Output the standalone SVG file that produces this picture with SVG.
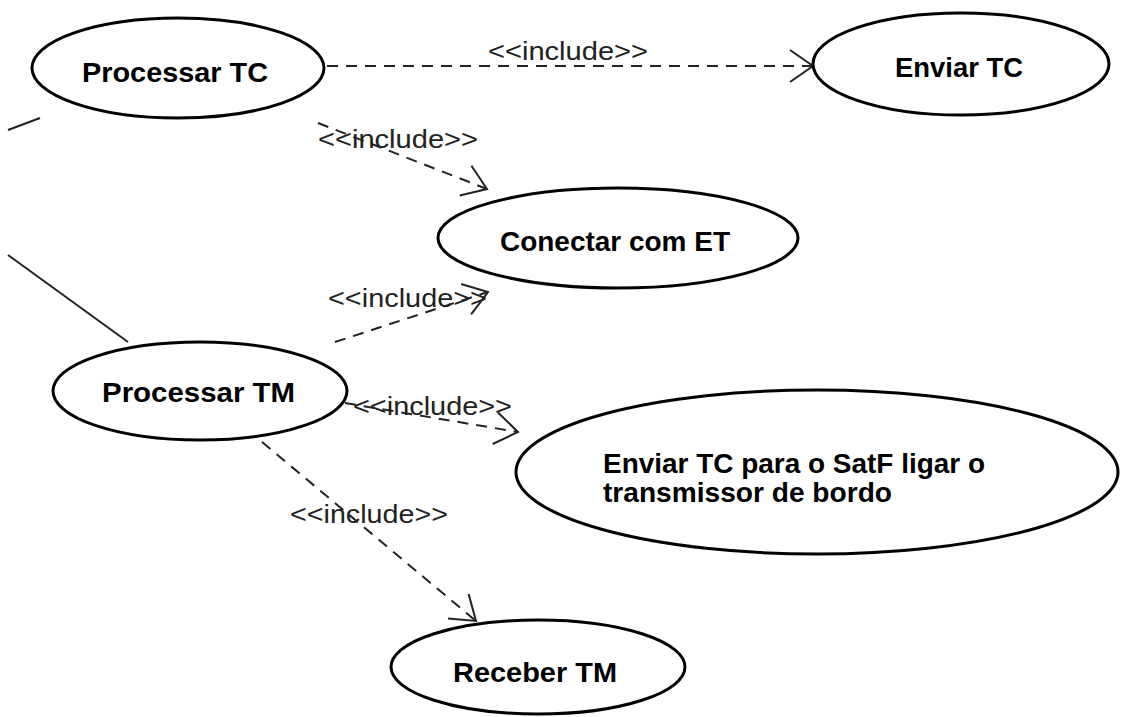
<svg xmlns="http://www.w3.org/2000/svg" width="1121" height="717" viewBox="0 0 1121 717">
<style>
.uc{fill:#fff;stroke:#000;stroke-width:3}
.nt{font-family:"Liberation Sans",Arial,sans-serif;font-weight:bold;font-size:28px;fill:#000}
.lbl{font-family:"Liberation Sans",Arial,sans-serif;font-size:26px;fill:#222}
.dep{fill:none;stroke:#222;stroke-width:2;stroke-dasharray:11 8;marker-end:url(#open)}
.assoc{fill:none;stroke:#222;stroke-width:2}
</style>
<defs>
<marker id="open" markerUnits="userSpaceOnUse" markerWidth="40" markerHeight="40" viewBox="-30 -20 34 40" refX="0" refY="0" orient="auto">
<path d="M-23,-16 L0,0 L-23,16" fill="none" stroke="#222" stroke-width="2" stroke-dasharray="none"/>
</marker>
</defs>
<rect width="1121" height="717" fill="#fff"/>
<g id="connectors">
<line class="assoc" x1="8" y1="130" x2="40" y2="118"/>
<line class="assoc" x1="8" y1="255" x2="128" y2="342"/>
<line class="dep" x1="327" y1="66" x2="813" y2="66"/>
<line class="dep" x1="318" y1="123" x2="487" y2="189"/>
<line class="dep" x1="335" y1="342" x2="488" y2="292"/>
<line class="dep" x1="345" y1="403" x2="518" y2="432"/>
<line class="dep" x1="262" y1="442" x2="476" y2="621"/>
<text class="lbl" x="488" y="60" textLength="160" lengthAdjust="spacingAndGlyphs">&lt;&lt;include&gt;&gt;</text>
<text class="lbl" x="318" y="148" textLength="160" lengthAdjust="spacingAndGlyphs">&lt;&lt;include&gt;&gt;</text>
<text class="lbl" x="328" y="307" textLength="159" lengthAdjust="spacingAndGlyphs">&lt;&lt;include&gt;&gt;</text>
<text class="lbl" x="353" y="415" textLength="159" lengthAdjust="spacingAndGlyphs">&lt;&lt;include&gt;&gt;</text>
<text class="lbl" x="290" y="523" textLength="158" lengthAdjust="spacingAndGlyphs">&lt;&lt;include&gt;&gt;</text>
</g>
<g id="processar-tc">
<ellipse class="uc" cx="178" cy="68" rx="146" ry="50"/>
<text class="nt" x="82" y="82" textLength="186" lengthAdjust="spacingAndGlyphs">Processar TC</text>
</g>
<g id="enviar-tc">
<ellipse class="uc" cx="961" cy="64" rx="148" ry="51"/>
<text class="nt" x="895" y="77" textLength="128" lengthAdjust="spacingAndGlyphs">Enviar TC</text>
</g>
<g id="conectar-com-et">
<ellipse class="uc" cx="618" cy="238" rx="180" ry="50"/>
<text class="nt" x="500" y="251" textLength="230" lengthAdjust="spacingAndGlyphs">Conectar com ET</text>
</g>
<g id="processar-tm">
<ellipse class="uc" cx="200" cy="391" rx="147" ry="49"/>
<text class="nt" x="102" y="402" textLength="193" lengthAdjust="spacingAndGlyphs">Processar TM</text>
</g>
<g id="enviar-tc-satf">
<ellipse class="uc" cx="817" cy="472" rx="301" ry="82"/>
<text class="nt" x="603" y="473" textLength="382" lengthAdjust="spacingAndGlyphs">Enviar TC para o SatF ligar o</text>
<text class="nt" x="603" y="502" textLength="289" lengthAdjust="spacingAndGlyphs">transmissor de bordo</text>
</g>
<g id="receber-tm">
<ellipse class="uc" cx="538" cy="667" rx="147" ry="47"/>
<text class="nt" x="453" y="682" textLength="164" lengthAdjust="spacingAndGlyphs">Receber TM</text>
</g>
</svg>
